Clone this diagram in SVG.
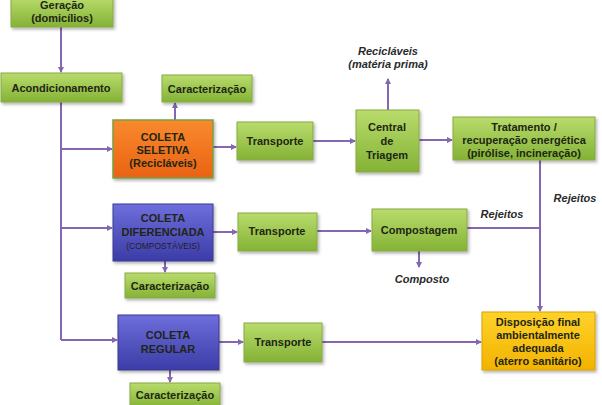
<svg xmlns="http://www.w3.org/2000/svg" width="602" height="405" viewBox="0 0 602 405">
<defs>
<linearGradient id="gG" x1="0" y1="0" x2="0" y2="1"><stop offset="0" stop-color="#b9dc6c"/><stop offset="1" stop-color="#84b236"/></linearGradient>
<linearGradient id="gO" x1="0" y1="0" x2="0" y2="1"><stop offset="0" stop-color="#f98a2e"/><stop offset="1" stop-color="#ea6212"/></linearGradient>
<linearGradient id="gB" x1="0" y1="0" x2="0" y2="1"><stop offset="0" stop-color="#6e6edc"/><stop offset="1" stop-color="#3c3ca8"/></linearGradient>
<linearGradient id="gY" x1="0" y1="0" x2="0" y2="1"><stop offset="0" stop-color="#ffd22a"/><stop offset="1" stop-color="#f2b300"/></linearGradient>
<filter id="sh" x="-10%" y="-10%" width="130%" height="140%"><feDropShadow dx="1.5" dy="2" stdDeviation="1.5" flood-color="#000" flood-opacity="0.3"/></filter>
<marker id="ar" markerWidth="6" markerHeight="6" refX="5" refY="3" orient="auto" markerUnits="userSpaceOnUse"><path d="M0,0 L6,3 L0,6 z" fill="#8566b0"/></marker>
<style>
.g{fill:url(#gG);stroke:#86aa44;stroke-width:1;filter:url(#sh)}
.o{fill:url(#gO);stroke:#7aa040;stroke-width:1.5;filter:url(#sh)}
.b{fill:url(#gB);stroke:#3a3a90;stroke-width:1;filter:url(#sh)}
.y{fill:url(#gY);stroke:#d9a000;stroke-width:1;filter:url(#sh)}
text{font-family:"Liberation Sans",Arial,sans-serif;font-weight:bold;font-size:11px;fill:#1e2614;text-anchor:middle}
.it{font-style:italic;fill:#2a2a2a}
.sm{font-size:8.5px;font-weight:normal;fill:#222}
.c line,.c path{stroke:#8566b0;stroke-width:2;fill:none}
</style>
</defs>
<g class="c">
<line x1="61" y1="27" x2="61" y2="72" marker-end="url(#ar)"/>
<line x1="61" y1="102" x2="61" y2="340"/>
<line x1="61" y1="149" x2="112" y2="149" marker-end="url(#ar)"/>
<line x1="61" y1="228" x2="112" y2="228" marker-end="url(#ar)"/>
<line x1="61" y1="340" x2="117" y2="340" marker-end="url(#ar)"/>
<line x1="175" y1="120" x2="175" y2="103" marker-end="url(#ar)"/>
<line x1="213" y1="147" x2="236" y2="147" marker-end="url(#ar)"/>
<line x1="313" y1="141" x2="355" y2="141" marker-end="url(#ar)"/>
<line x1="388" y1="110" x2="388" y2="79" marker-end="url(#ar)"/>
<line x1="419" y1="140" x2="452" y2="140" marker-end="url(#ar)"/>
<line x1="540" y1="160" x2="540" y2="311" marker-end="url(#ar)"/>
<line x1="165" y1="261" x2="165" y2="272" marker-end="url(#ar)"/>
<line x1="213" y1="232" x2="237" y2="232" marker-end="url(#ar)"/>
<line x1="317" y1="231" x2="371" y2="231" marker-end="url(#ar)"/>
<line x1="467" y1="228" x2="540" y2="228"/>
<line x1="419" y1="251" x2="419" y2="267" marker-end="url(#ar)"/>
<line x1="170" y1="370" x2="170" y2="382" marker-end="url(#ar)"/>
<line x1="219" y1="342" x2="243" y2="342" marker-end="url(#ar)"/>
<line x1="322" y1="342" x2="481" y2="342" marker-end="url(#ar)"/>
</g>
<g id="geracao"><rect class="g" x="11" y="-3" width="102" height="30"/><text x="62" y="9">Geração</text><text x="62" y="22">(domicílios)</text></g>
<g id="acondicionamento"><rect class="g" x="1" y="73" width="121" height="29"/><text x="61" y="92">Acondicionamento</text></g>
<g id="caract1"><rect class="g" x="162" y="75" width="90" height="27"/><text x="207" y="93">Caracterização</text></g>
<g id="coletaSeletiva"><rect class="o" x="113" y="120" width="100" height="58"/><text x="163" y="141">COLETA</text><text x="163" y="154">SELETIVA</text><text x="163" y="167">(Recicláveis)</text></g>
<g id="transporte1"><rect class="g" x="237" y="122" width="76" height="38"/><text x="275" y="145">Transporte</text></g>
<g id="reciclaveis"><text class="it" x="388" y="55">Recicláveis</text><text class="it" x="388" y="68">(matéria prima)</text></g>
<g id="centralTriagem"><rect class="g" x="356" y="110" width="63" height="62"/><text x="387" y="131">Central</text><text x="387" y="145">de</text><text x="387" y="159">Triagem</text></g>
<g id="tratamento"><rect class="g" x="453" y="117" width="142" height="43"/><text x="524" y="131">Tratamento /</text><text x="524" y="144">recuperação energética</text><text x="524" y="157">(pirólise, incineração)</text></g>
<g id="rejeitosLbl1"><text class="it" x="575" y="202">Rejeitos</text></g>
<g id="coletaDiferenciada"><rect class="b" x="113" y="204" width="100" height="57"/><text x="163" y="222">COLETA</text><text x="163" y="236">DIFERENCIADA</text><text class="sm" x="163" y="249">(COMPOSTÁVEIS)</text></g>
<g id="transporte2"><rect class="g" x="238" y="213" width="79" height="38"/><text x="277" y="235">Transporte</text></g>
<g id="compostagem"><rect class="g" x="372" y="209" width="95" height="42"/><text x="419" y="234">Compostagem</text></g>
<g id="rejeitosLbl2"><text class="it" x="502" y="218">Rejeitos</text></g>
<g id="composto"><text class="it" x="422" y="283">Composto</text></g>
<g id="caract2"><rect class="g" x="125" y="273" width="90" height="25"/><text x="170" y="290">Caracterização</text></g>
<g id="coletaRegular"><rect class="b" x="118" y="315" width="101" height="55"/><text x="168" y="339">COLETA</text><text x="168" y="353">REGULAR</text></g>
<g id="transporte3"><rect class="g" x="244" y="323" width="78" height="39"/><text x="283" y="346">Transporte</text></g>
<g id="disposicao"><rect class="y" x="482" y="312" width="113" height="58"/><text x="538" y="326">Disposição final</text><text x="538" y="339">ambientalmente</text><text x="538" y="352">adequada</text><text x="538" y="365">(aterro sanitário)</text></g>
<g id="caract3"><rect class="g" x="130" y="383" width="90" height="25"/><text x="175" y="399">Caracterização</text></g>
</svg>
